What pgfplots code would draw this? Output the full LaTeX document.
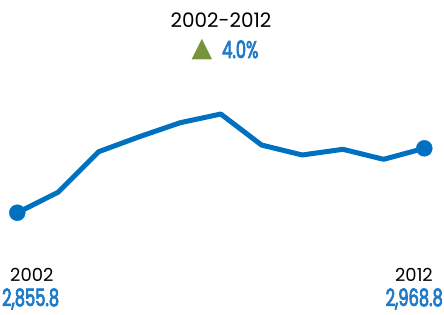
\documentclass[border=0pt]{standalone}
\usepackage{fontspec}
\setmainfont{Poppins}
\newfontfamily\numfont[FakeStretch=0.68, FakeBold=3]{Poppins}
\newfontfamily\symfont{DejaVu Sans}
\usepackage{pgfplots}
\pgfplotsset{compat=1.18}
\definecolor{lineblue}{HTML}{0070C0}
\definecolor{txtblue}{HTML}{1F7BC9}
\definecolor{trigreen}{HTML}{77933C}
\begin{document}
\begin{tikzpicture}
\useasboundingbox (0,0) rectangle (444bp,315bp);
\begin{axis}[
  at={(0,0)}, anchor=south west,
  scale only axis, width=444bp, height=315bp,
  xmin=2001.575, xmax=2012.484,
  ymin=2676.3, ymax=3229.1,
  hide axis, clip=false]
\addplot[lineblue, line width=5bp, line join=round, mark=none] coordinates {
(2002,2855.8) (2003,2891.6) (2004,2962.9) (2005,2989.2) (2006,3013.7)
(2007,3029.0) (2008,2974.6) (2009,2957.1) (2010,2967.1) (2011,2949.5)
(2012,2968.8)};
\addplot[lineblue, only marks, mark=*, mark size=8bp, mark options={fill=lineblue, draw=none}] coordinates {
(2002,2855.8) (2012,2968.8)};
\end{axis}
\node[anchor=base, inner sep=0pt, font=\fontsize{20}{22}\selectfont] at (221bp,{315bp-28bp}) {2002-2012};
\node[anchor=base, inner sep=0pt, text=trigreen, font=\symfont\fontsize{27}{29}\selectfont] at (202bp,{315bp-57bp}) {▲};
\node[anchor=base west, inner sep=0pt, text=txtblue, font=\numfont\fontsize{24}{26}\selectfont] at (222bp,{315bp-58bp}) {4.0\%};
\node[anchor=base west, inner sep=0pt, font=\fontsize{18}{20}\selectfont] at (10bp,{315bp-281bp}) {2002};
\node[anchor=base east, inner sep=0pt, font=\fontsize{18}{20}\selectfont] at (433bp,{315bp-281bp}) {2012};
\node[anchor=base west, inner sep=0pt, text=txtblue, font=\numfont\fontsize{24}{26}\selectfont] at (2bp,{315bp-306bp}) {2,855.8};
\node[anchor=base east, inner sep=0pt, text=txtblue, font=\numfont\fontsize{24}{26}\selectfont] at (443bp,{315bp-306bp}) {2,968.8};
\end{tikzpicture}
\end{document}
